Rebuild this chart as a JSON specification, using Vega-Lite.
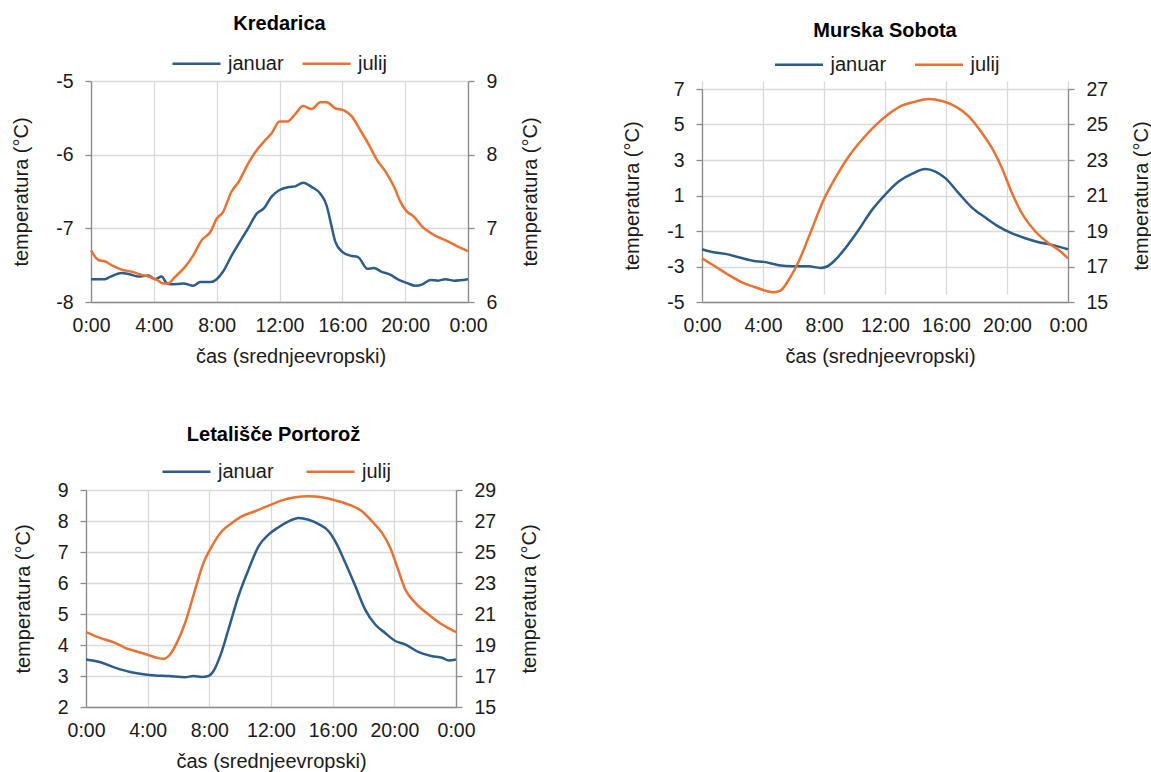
{
  "$schema": "https://vega.github.io/schema/vega-lite/v6.json",
  "background": "white",
  "padding": {"left": 11, "top": 14, "right": 0, "bottom": 0},
  "bounds": "flush",
  "columns": 2,
  "spacing": {"row": 188, "column": 234},
  "resolve": {"scale": {"color": "independent"}},
  "config": {
    "font": "Liberation Sans",
    "view": {"stroke": null},
    "axis": {
      "labelFontSize": 19.5, "labelColor": "#1a1a1a", "labelPadding": 12,
      "titleFontSize": 20, "titleFontWeight": "normal", "titleColor": "#1a1a1a",
      "gridColor": "#d9d9d9", "gridWidth": 1.3,
      "domainColor": "#8c8c8c", "domainWidth": 1.3,
      "tickColor": "#8c8c8c", "tickWidth": 1.3, "tickSize": 6,
      "titlePadding": 24
    },
    "axisX": {"ticks": false, "labelPadding": 14, "titlePadding": 12, "labelFlush": false, "labelOverlap": false},
    "legend": {
      "orient": "none", "direction": "horizontal", "title": null,
      "symbolType": "stroke", "symbolSize": 2304, "symbolStrokeWidth": 2.5,
      "labelFontSize": 20, "labelOffset": 6, "labelColor": "#1a1a1a"
    },
    "title": {"fontSize": 20, "fontWeight": "bold", "color": "#000000", "anchor": "middle", "frame": "group"},
    "line": {"strokeWidth": 2.5, "interpolate": "monotone"}
  },
  "datasets": {
    "d": [
      {"s":"Kredarica","m":"januar","h":0,"t":-7.69},{"s":"Kredarica","m":"januar","h":0.9,"t":-7.69},{"s":"Kredarica","m":"januar","h":1.2,"t":-7.66},{"s":"Kredarica","m":"januar","h":1.95,"t":-7.605},{"s":"Kredarica","m":"januar","h":2.4,"t":-7.62},{"s":"Kredarica","m":"januar","h":3.0,"t":-7.655},{"s":"Kredarica","m":"januar","h":3.65,"t":-7.64},{"s":"Kredarica","m":"januar","h":4.08,"t":-7.69},{"s":"Kredarica","m":"januar","h":4.5,"t":-7.655},{"s":"Kredarica","m":"januar","h":4.8,"t":-7.74},{"s":"Kredarica","m":"januar","h":5.1,"t":-7.76},{"s":"Kredarica","m":"januar","h":5.9,"t":-7.75},{"s":"Kredarica","m":"januar","h":6.5,"t":-7.78},{"s":"Kredarica","m":"januar","h":6.95,"t":-7.73},{"s":"Kredarica","m":"januar","h":7.6,"t":-7.73},{"s":"Kredarica","m":"januar","h":8.0,"t":-7.69},{"s":"Kredarica","m":"januar","h":8.4,"t":-7.59},{"s":"Kredarica","m":"januar","h":8.95,"t":-7.37},{"s":"Kredarica","m":"januar","h":9.6,"t":-7.14},{"s":"Kredarica","m":"januar","h":10.0,"t":-7.0},{"s":"Kredarica","m":"januar","h":10.55,"t":-6.8},{"s":"Kredarica","m":"januar","h":11.0,"t":-6.73},{"s":"Kredarica","m":"januar","h":11.5,"t":-6.57},{"s":"Kredarica","m":"januar","h":12.0,"t":-6.48},{"s":"Kredarica","m":"januar","h":12.6,"t":-6.44},{"s":"Kredarica","m":"januar","h":13.0,"t":-6.43},{"s":"Kredarica","m":"januar","h":13.5,"t":-6.38},{"s":"Kredarica","m":"januar","h":14.06,"t":-6.44},{"s":"Kredarica","m":"januar","h":14.6,"t":-6.53},{"s":"Kredarica","m":"januar","h":15.0,"t":-6.69},{"s":"Kredarica","m":"januar","h":15.3,"t":-6.96},{"s":"Kredarica","m":"januar","h":15.55,"t":-7.18},{"s":"Kredarica","m":"januar","h":16.0,"t":-7.32},{"s":"Kredarica","m":"januar","h":16.5,"t":-7.37},{"s":"Kredarica","m":"januar","h":17.0,"t":-7.39},{"s":"Kredarica","m":"januar","h":17.6,"t":-7.55},{"s":"Kredarica","m":"januar","h":18.0,"t":-7.54},{"s":"Kredarica","m":"januar","h":18.5,"t":-7.59},{"s":"Kredarica","m":"januar","h":19.05,"t":-7.63},{"s":"Kredarica","m":"januar","h":19.6,"t":-7.7},{"s":"Kredarica","m":"januar","h":20.1,"t":-7.74},{"s":"Kredarica","m":"januar","h":20.65,"t":-7.78},{"s":"Kredarica","m":"januar","h":21.1,"t":-7.76},{"s":"Kredarica","m":"januar","h":21.6,"t":-7.7},{"s":"Kredarica","m":"januar","h":22.1,"t":-7.71},{"s":"Kredarica","m":"januar","h":22.55,"t":-7.69},{"s":"Kredarica","m":"januar","h":23.1,"t":-7.71},{"s":"Kredarica","m":"januar","h":24,"t":-7.69},
      {"s":"Kredarica","m":"julij","h":0,"t":6.7},{"s":"Kredarica","m":"julij","h":0.47,"t":6.57},{"s":"Kredarica","m":"julij","h":0.9,"t":6.55},{"s":"Kredarica","m":"julij","h":1.4,"t":6.49},{"s":"Kredarica","m":"julij","h":1.95,"t":6.44},{"s":"Kredarica","m":"julij","h":2.6,"t":6.41},{"s":"Kredarica","m":"julij","h":3.2,"t":6.37},{"s":"Kredarica","m":"julij","h":3.75,"t":6.34},{"s":"Kredarica","m":"julij","h":4.2,"t":6.3},{"s":"Kredarica","m":"julij","h":4.6,"t":6.25},{"s":"Kredarica","m":"julij","h":4.9,"t":6.25},{"s":"Kredarica","m":"julij","h":5.35,"t":6.34},{"s":"Kredarica","m":"julij","h":6.0,"t":6.48},{"s":"Kredarica","m":"julij","h":6.5,"t":6.63},{"s":"Kredarica","m":"julij","h":7.05,"t":6.84},{"s":"Kredarica","m":"julij","h":7.6,"t":6.95},{"s":"Kredarica","m":"julij","h":8.0,"t":7.13},{"s":"Kredarica","m":"julij","h":8.4,"t":7.22},{"s":"Kredarica","m":"julij","h":8.95,"t":7.5},{"s":"Kredarica","m":"julij","h":9.4,"t":7.63},{"s":"Kredarica","m":"julij","h":10.0,"t":7.88},{"s":"Kredarica","m":"julij","h":10.55,"t":8.06},{"s":"Kredarica","m":"julij","h":11.1,"t":8.2},{"s":"Kredarica","m":"julij","h":11.5,"t":8.29},{"s":"Kredarica","m":"julij","h":12.0,"t":8.45},{"s":"Kredarica","m":"julij","h":12.5,"t":8.45},{"s":"Kredarica","m":"julij","h":13.0,"t":8.55},{"s":"Kredarica","m":"julij","h":13.5,"t":8.66},{"s":"Kredarica","m":"julij","h":14.06,"t":8.62},{"s":"Kredarica","m":"julij","h":14.6,"t":8.71},{"s":"Kredarica","m":"julij","h":15.0,"t":8.71},{"s":"Kredarica","m":"julij","h":15.55,"t":8.63},{"s":"Kredarica","m":"julij","h":16.1,"t":8.6},{"s":"Kredarica","m":"julij","h":16.6,"t":8.52},{"s":"Kredarica","m":"julij","h":17.15,"t":8.33},{"s":"Kredarica","m":"julij","h":17.7,"t":8.13},{"s":"Kredarica","m":"julij","h":18.2,"t":7.93},{"s":"Kredarica","m":"julij","h":18.75,"t":7.77},{"s":"Kredarica","m":"julij","h":19.3,"t":7.56},{"s":"Kredarica","m":"julij","h":19.7,"t":7.36},{"s":"Kredarica","m":"julij","h":20.1,"t":7.23},{"s":"Kredarica","m":"julij","h":20.55,"t":7.16},{"s":"Kredarica","m":"julij","h":21.1,"t":7.02},{"s":"Kredarica","m":"julij","h":21.6,"t":6.94},{"s":"Kredarica","m":"julij","h":22.1,"t":6.88},{"s":"Kredarica","m":"julij","h":22.65,"t":6.83},{"s":"Kredarica","m":"julij","h":23.2,"t":6.77},{"s":"Kredarica","m":"julij","h":24,"t":6.69},
      {"s":"Murska Sobota","m":"januar","h":0,"t":-2.03},{"s":"Murska Sobota","m":"januar","h":0.66,"t":-2.18},{"s":"Murska Sobota","m":"januar","h":1.53,"t":-2.29},{"s":"Murska Sobota","m":"januar","h":2.4,"t":-2.48},{"s":"Murska Sobota","m":"januar","h":3.39,"t":-2.69},{"s":"Murska Sobota","m":"januar","h":4.04,"t":-2.74},{"s":"Murska Sobota","m":"januar","h":5.03,"t":-2.93},{"s":"Murska Sobota","m":"januar","h":5.9,"t":-2.99},{"s":"Murska Sobota","m":"januar","h":7.0,"t":-2.99},{"s":"Murska Sobota","m":"januar","h":7.76,"t":-3.08},{"s":"Murska Sobota","m":"januar","h":8.2,"t":-3.0},{"s":"Murska Sobota","m":"januar","h":8.74,"t":-2.63},{"s":"Murska Sobota","m":"januar","h":9.4,"t":-1.97},{"s":"Murska Sobota","m":"januar","h":10.27,"t":-0.94},{"s":"Murska Sobota","m":"januar","h":11.15,"t":0.19},{"s":"Murska Sobota","m":"januar","h":12.0,"t":1.04},{"s":"Murska Sobota","m":"januar","h":12.9,"t":1.79},{"s":"Murska Sobota","m":"januar","h":13.77,"t":2.22},{"s":"Murska Sobota","m":"januar","h":14.64,"t":2.49},{"s":"Murska Sobota","m":"januar","h":15.3,"t":2.35},{"s":"Murska Sobota","m":"januar","h":15.96,"t":1.98},{"s":"Murska Sobota","m":"januar","h":16.83,"t":1.13},{"s":"Murska Sobota","m":"januar","h":17.7,"t":0.32},{"s":"Murska Sobota","m":"januar","h":18.58,"t":-0.24},{"s":"Murska Sobota","m":"januar","h":19.45,"t":-0.75},{"s":"Murska Sobota","m":"januar","h":20.33,"t":-1.13},{"s":"Murska Sobota","m":"januar","h":21.2,"t":-1.41},{"s":"Murska Sobota","m":"januar","h":22.08,"t":-1.63},{"s":"Murska Sobota","m":"januar","h":22.95,"t":-1.78},{"s":"Murska Sobota","m":"januar","h":24,"t":-2.03},
      {"s":"Murska Sobota","m":"julij","h":0,"t":17.46},{"s":"Murska Sobota","m":"julij","h":0.87,"t":17.0},{"s":"Murska Sobota","m":"julij","h":1.75,"t":16.52},{"s":"Murska Sobota","m":"julij","h":2.62,"t":16.11},{"s":"Murska Sobota","m":"julij","h":3.5,"t":15.83},{"s":"Murska Sobota","m":"julij","h":4.15,"t":15.64},{"s":"Murska Sobota","m":"julij","h":4.7,"t":15.55},{"s":"Murska Sobota","m":"julij","h":5.14,"t":15.64},{"s":"Murska Sobota","m":"julij","h":5.68,"t":16.24},{"s":"Murska Sobota","m":"julij","h":6.34,"t":17.28},{"s":"Murska Sobota","m":"julij","h":7.1,"t":18.88},{"s":"Murska Sobota","m":"julij","h":7.98,"t":20.76},{"s":"Murska Sobota","m":"julij","h":8.74,"t":21.98},{"s":"Murska Sobota","m":"julij","h":9.62,"t":23.2},{"s":"Murska Sobota","m":"julij","h":10.49,"t":24.14},{"s":"Murska Sobota","m":"julij","h":11.37,"t":24.95},{"s":"Murska Sobota","m":"julij","h":12.24,"t":25.59},{"s":"Murska Sobota","m":"julij","h":13.1,"t":26.06},{"s":"Murska Sobota","m":"julij","h":13.99,"t":26.29},{"s":"Murska Sobota","m":"julij","h":14.86,"t":26.44},{"s":"Murska Sobota","m":"julij","h":15.74,"t":26.32},{"s":"Murska Sobota","m":"julij","h":16.61,"t":26.02},{"s":"Murska Sobota","m":"julij","h":17.49,"t":25.46},{"s":"Murska Sobota","m":"julij","h":18.36,"t":24.52},{"s":"Murska Sobota","m":"julij","h":19.02,"t":23.67},{"s":"Murska Sobota","m":"julij","h":19.67,"t":22.54},{"s":"Murska Sobota","m":"julij","h":20.33,"t":21.13},{"s":"Murska Sobota","m":"julij","h":21.1,"t":19.82},{"s":"Murska Sobota","m":"julij","h":21.86,"t":18.97},{"s":"Murska Sobota","m":"julij","h":22.73,"t":18.31},{"s":"Murska Sobota","m":"julij","h":23.39,"t":17.93},{"s":"Murska Sobota","m":"julij","h":24,"t":17.46},
      {"s":"Portorož","m":"januar","h":0,"t":3.535},{"s":"Portorož","m":"januar","h":0.9,"t":3.45},{"s":"Portorož","m":"januar","h":1.88,"t":3.27},{"s":"Portorož","m":"januar","h":2.86,"t":3.13},{"s":"Portorož","m":"januar","h":3.83,"t":3.05},{"s":"Portorož","m":"januar","h":4.48,"t":3.02},{"s":"Portorož","m":"januar","h":5.35,"t":3.0},{"s":"Portorož","m":"januar","h":6.43,"t":2.96},{"s":"Portorož","m":"januar","h":6.97,"t":3.0},{"s":"Portorož","m":"januar","h":7.5,"t":2.97},{"s":"Portorož","m":"januar","h":7.94,"t":3.0},{"s":"Portorož","m":"januar","h":8.27,"t":3.16},{"s":"Portorož","m":"januar","h":8.7,"t":3.64},{"s":"Portorož","m":"januar","h":9.24,"t":4.5},{"s":"Portorož","m":"januar","h":9.89,"t":5.58},{"s":"Portorož","m":"januar","h":10.54,"t":6.43},{"s":"Portorož","m":"januar","h":11.2,"t":7.19},{"s":"Portorož","m":"januar","h":11.84,"t":7.56},{"s":"Portorož","m":"januar","h":12.49,"t":7.8},{"s":"Portorož","m":"januar","h":13.14,"t":7.99},{"s":"Portorož","m":"januar","h":13.79,"t":8.1},{"s":"Portorož","m":"januar","h":14.44,"t":8.04},{"s":"Portorož","m":"januar","h":15.09,"t":7.9},{"s":"Portorož","m":"januar","h":15.74,"t":7.67},{"s":"Portorož","m":"januar","h":16.28,"t":7.24},{"s":"Portorož","m":"januar","h":16.82,"t":6.65},{"s":"Portorož","m":"januar","h":17.47,"t":5.9},{"s":"Portorož","m":"januar","h":18.1,"t":5.15},{"s":"Portorož","m":"januar","h":18.76,"t":4.66},{"s":"Portorož","m":"januar","h":19.4,"t":4.39},{"s":"Portorož","m":"januar","h":20.06,"t":4.13},{"s":"Portorož","m":"januar","h":20.7,"t":4.02},{"s":"Portorož","m":"januar","h":21.58,"t":3.77},{"s":"Portorož","m":"januar","h":22.45,"t":3.64},{"s":"Portorož","m":"januar","h":23.1,"t":3.59},{"s":"Portorož","m":"januar","h":23.53,"t":3.5},{"s":"Portorož","m":"januar","h":24,"t":3.535},
      {"s":"Portorož","m":"julij","h":0,"t":19.83},{"s":"Portorož","m":"julij","h":0.9,"t":19.46},{"s":"Portorož","m":"julij","h":1.88,"t":19.14},{"s":"Portorož","m":"julij","h":2.53,"t":18.82},{"s":"Portorož","m":"julij","h":3.18,"t":18.61},{"s":"Portorož","m":"julij","h":3.94,"t":18.39},{"s":"Portorož","m":"julij","h":4.59,"t":18.18},{"s":"Portorož","m":"julij","h":5.02,"t":18.11},{"s":"Portorož","m":"julij","h":5.45,"t":18.39},{"s":"Portorož","m":"julij","h":5.89,"t":19.14},{"s":"Portorož","m":"julij","h":6.43,"t":20.43},{"s":"Portorož","m":"julij","h":7.08,"t":22.58},{"s":"Portorož","m":"julij","h":7.62,"t":24.3},{"s":"Portorož","m":"julij","h":8.16,"t":25.37},{"s":"Portorož","m":"julij","h":8.81,"t":26.34},{"s":"Portorož","m":"julij","h":9.46,"t":26.87},{"s":"Portorož","m":"julij","h":10.1,"t":27.3},{"s":"Portorož","m":"julij","h":10.97,"t":27.63},{"s":"Portorož","m":"julij","h":11.84,"t":27.99},{"s":"Portorož","m":"julij","h":12.7,"t":28.33},{"s":"Portorož","m":"julij","h":13.57,"t":28.53},{"s":"Portorož","m":"julij","h":14.44,"t":28.59},{"s":"Portorož","m":"julij","h":15.3,"t":28.53},{"s":"Portorož","m":"julij","h":16.17,"t":28.33},{"s":"Portorož","m":"julij","h":17.04,"t":28.06},{"s":"Portorož","m":"julij","h":17.9,"t":27.63},{"s":"Portorož","m":"julij","h":18.55,"t":26.98},{"s":"Portorož","m":"julij","h":19.2,"t":26.23},{"s":"Portorož","m":"julij","h":19.74,"t":25.26},{"s":"Portorož","m":"julij","h":20.17,"t":24.08},{"s":"Portorož","m":"julij","h":20.71,"t":22.58},{"s":"Portorož","m":"julij","h":21.36,"t":21.72},{"s":"Portorož","m":"julij","h":22.22,"t":20.97},{"s":"Portorož","m":"julij","h":23.1,"t":20.32},{"s":"Portorož","m":"julij","h":24,"t":19.83}
    ]
  },
  "concat": [
    {
      "title": {"text": "Kredarica", "offset": 4},
      "width": 377, "height": 221,
      "data": {"name": "d"},
      "transform": [{"filter": "datum.s === 'Kredarica'"}],
      "encoding": {
        "x": {"field": "h", "type": "quantitative", "scale": {"domain": [0, 24], "nice": false},
              "axis": {"values": [0,4,8,12,16,20,24], "labelExpr": "(datum.value % 24) + ':00'", "title": "čas (srednjeevropski)", "grid": true, "titleX": 199.5}},
        "color": {"field": "m", "type": "nominal", "scale": {"domain": ["januar", "julij"], "range": ["#2c5d8a", "#ec7130"]},
                  "legend": {"legendX": 80, "legendY": -43, "columnPadding": 13}}
      },
      "layer": [
        {"transform": [{"filter": "datum.m === 'januar'"}], "mark": "line",
         "encoding": {"y": {"field": "t", "type": "quantitative", "scale": {"domain": [-8, -5], "nice": false, "zero": false},
                            "axis": {"orient": "left", "values": [-8,-7,-6,-5], "labelExpr": "datum.value + ''", "title": "temperatura (°C)", "grid": true}}}},
        {"transform": [{"filter": "datum.m === 'julij'"}], "mark": "line",
         "encoding": {"y": {"field": "t", "type": "quantitative", "scale": {"domain": [6, 9], "nice": false, "zero": false},
                            "axis": {"orient": "right", "values": [6,7,8,9], "labelExpr": "datum.value + ''", "title": "temperatura (°C)", "grid": false, "titleAngle": 270, "titleBaseline": "top"}}}}
      ],
      "resolve": {"scale": {"y": "independent"}}
    },
    {
      "title": {"text": "Murska Sobota", "offset": -1.5},
      "width": 366, "height": 221,
      "data": {"name": "d"},
      "transform": [{"filter": "datum.s === 'Murska Sobota'"}],
      "encoding": {
        "color": {"field": "m", "type": "nominal", "scale": {"domain": ["januar", "julij"], "range": ["#2c5d8a", "#ec7130"]},
                  "legend": {"legendX": 71.5, "legendY": -42, "columnPadding": 23}}
      },
      "layer": [
        {"transform": [{"filter": "datum.m === 'januar'"}], "mark": "line",
         "encoding": {
           "x": {"field": "h", "type": "quantitative", "scale": {"domain": [0, 24], "nice": false},
                 "axis": {"values": [0,4,8,12,16,20,24], "labelExpr": "(datum.value % 24) + ':00'", "title": "čas (srednjeevropski)", "grid": true, "titleX": 178}},
           "y": {"field": "t", "type": "quantitative", "scale": {"domain": [-5, 7], "nice": false, "zero": false, "range": [221, 8]},
                 "axis": {"orient": "left", "values": [-5,-3,-1,1,3,5,7], "labelExpr": "datum.value + ''", "title": "temperatura (°C)", "grid": true}}}},
        {"transform": [{"filter": "datum.m === 'julij'"}], "mark": "line",
         "encoding": {
           "x": {"field": "h", "type": "quantitative", "axis": null},
           "y": {"field": "t", "type": "quantitative", "scale": {"domain": [15, 27], "nice": false, "zero": false, "range": [221, 8]},
                 "axis": {"orient": "right", "values": [15,17,19,21,23,25,27], "labelExpr": "datum.value + ''", "title": "temperatura (°C)", "grid": false, "titleAngle": 270, "titleBaseline": "top"}}}}
      ],
      "resolve": {"scale": {"y": "independent"}, "axis": {"x": "independent"}}
    },
    {
      "title": {"text": "Letališče Portorož", "offset": 1.5},
      "width": 365, "height": 217,
      "data": {"name": "d"},
      "transform": [{"filter": "datum.s === 'Portorož'"}],
      "encoding": {
        "x": {"field": "h", "type": "quantitative", "scale": {"domain": [0, 24], "nice": false, "range": [-5, 365]},
              "axis": {"values": [0,4,8,12,16,20,24], "labelExpr": "(datum.value % 24) + ':00'", "title": "čas (srednjeevropski)", "grid": true}},
        "color": {"field": "m", "type": "nominal", "scale": {"domain": ["januar", "julij"], "range": ["#2c5d8a", "#ec7130"]},
                  "legend": {"legendX": 70, "legendY": -44, "columnPadding": 27}}
      },
      "layer": [
        {"transform": [{"filter": "datum.m === 'januar'"}], "mark": "line",
         "encoding": {"y": {"field": "t", "type": "quantitative", "scale": {"domain": [2, 9], "nice": false, "zero": false},
                            "axis": {"orient": "left", "offset": 5, "values": [2,3,4,5,6,7,8,9], "labelExpr": "datum.value + ''", "title": "temperatura (°C)", "grid": true}}}},
        {"transform": [{"filter": "datum.m === 'julij'"}], "mark": "line",
         "encoding": {"y": {"field": "t", "type": "quantitative", "scale": {"domain": [15, 29], "nice": false, "zero": false},
                            "axis": {"orient": "right", "values": [15,17,19,21,23,25,27,29], "labelExpr": "datum.value + ''", "title": "temperatura (°C)", "grid": false, "titleAngle": 270, "titleBaseline": "top"}}}}
      ],
      "resolve": {"scale": {"y": "independent"}}
    }
  ]
}
